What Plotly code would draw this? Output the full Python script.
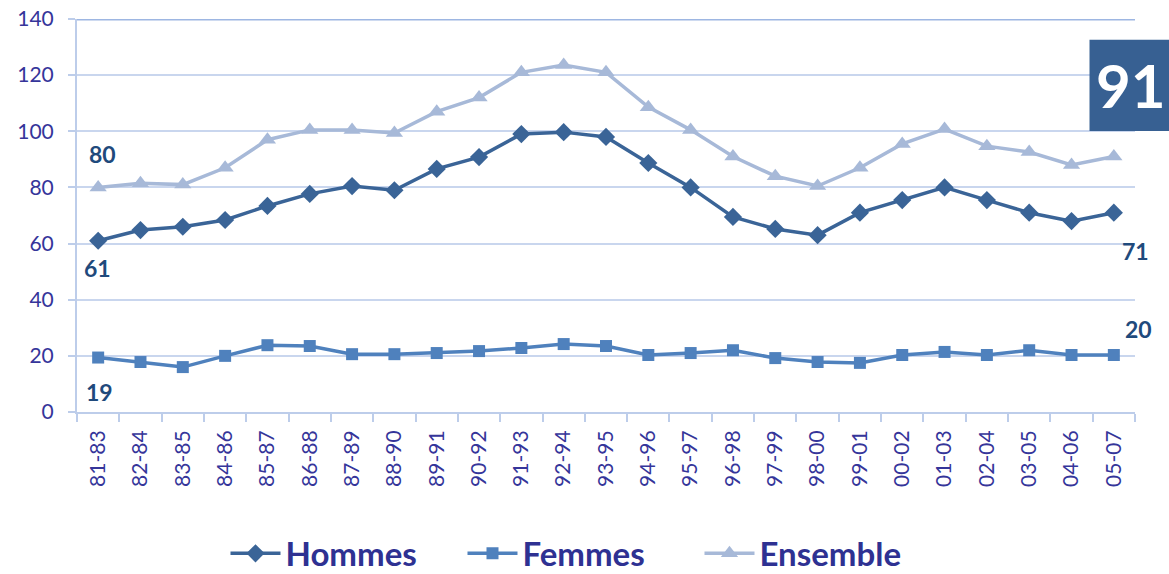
import plotly.graph_objects as go

categories = ["81-83", "82-84", "83-85", "84-86", "85-87", "86-88", "87-89", "88-90",
              "89-91", "90-92", "91-93", "92-94", "93-95", "94-96", "95-97", "96-98",
              "97-99", "98-00", "99-01", "00-02", "01-03", "02-04", "03-05", "04-06", "05-07"]

hommes = [61, 64.8, 66, 68.4, 73.4, 77.7, 80.5, 79, 86.6, 90.8, 99, 99.7, 98, 88.7, 80,
          69.5, 65.2, 63, 71, 75.5, 80, 75.5, 71, 68, 71]
femmes = [19.4, 17.8, 16, 20, 23.8, 23.5, 20.6, 20.6, 21, 21.7, 22.8, 24.2, 23.5, 20.3, 21,
          22, 19.2, 17.8, 17.5, 20.3, 21.4, 20.3, 22, 20.3, 20.3]
ensemble = [80, 81.5, 81, 87, 97, 100.5, 100.5, 99.4, 107, 112, 121, 123.6, 121, 108.6, 100.5,
            91, 84, 80.5, 87, 95.5, 100.8, 94.7, 92.6, 88, 91]

y_ticks = [0, 20, 40, 60, 80, 100, 120, 140]

C_H = "#3A6497"
C_F = "#4F81BD"
C_E = "#A7B9D8"
LABEL_C = "#1F4A7C"
TICK_C = "#35359A"
FONT = "Lato, 'Open Sans', sans-serif"

fig = go.Figure()
fig.add_trace(go.Scatter(x=categories, y=hommes, name="Hommes", mode="lines+markers",
                         line=dict(color=C_H, width=3.5),
                         marker=dict(symbol="diamond", size=14, color=C_H)))
fig.add_trace(go.Scatter(x=categories, y=femmes, name="Femmes", mode="lines+markers",
                         line=dict(color=C_F, width=3.5),
                         marker=dict(symbol="square", size=12, color=C_F)))
fig.add_trace(go.Scatter(x=categories, y=ensemble, name="Ensemble", mode="lines+markers",
                         line=dict(color=C_E, width=3.5),
                         marker=dict(symbol="triangle-up", size=15, color=C_E)))

lab_font = dict(family=FONT, size=23, color=LABEL_C, weight="bold")
anns = [
    (categories[0], ensemble[0], f"{ensemble[0]:.0f}", 4, 33),
    (categories[0], hommes[0], f"{hommes[0]:.0f}", -1, -27),
    (categories[0], femmes[0], f"{femmes[0]:.0f}", 1, -34),
    (categories[-1], hommes[-1], f"{hommes[-1]:.0f}", 22, -38),
    (categories[-1], femmes[-1], f"{femmes[-1]:.0f}", 25, 26),
]
for x, y, t, xs, ys in anns:
    fig.add_annotation(x=x, y=y, text=t, showarrow=False, xshift=xs, yshift=ys, font=lab_font)

# Highlight box with Ensemble last value
fig.add_shape(type="rect", xref="paper", yref="paper", x0=0.957, x1=1.035, y0=0.715, y1=0.947,
              fillcolor="#376092", line=dict(width=0), layer="above")
fig.add_annotation(xref="paper", yref="paper", x=0.996, y=0.831, xanchor="center", yanchor="middle",
                   text=f"{ensemble[-1]:.0f}", showarrow=False,
                   font=dict(family=FONT, size=60, color="white", weight="bold"))

# thicker top line at 140
fig.add_shape(type="line", xref="paper", yref="y", x0=0, x1=1, y0=140, y1=140,
              line=dict(color="#9DB6E2", width=3))

fig.update_layout(
    width=1169, height=574,
    margin=dict(l=77, r=34, t=19, b=162, autoexpand=False),
    plot_bgcolor="white", paper_bgcolor="white",
    font=dict(family=FONT, color=TICK_C),
    showlegend=True,
    legend=dict(orientation="h", xref="container", x=0.497, xanchor="center",
                yref="container", y=0.036, yanchor="middle",
                font=dict(family=FONT, size=33, color="#2E3192", weight="bold"),
                itemwidth=50, entrywidth=172, entrywidthmode="pixels",
                tracegroupgap=0),
    xaxis=dict(type="category", range=[-0.5, 24.5], tickangle=-90, automargin=False,
               tickfont=dict(size=21, color=TICK_C), showgrid=False, ticklabelstandoff=8,
               showline=True, linecolor="#BDCDEA", linewidth=2,
               ticks="outside", tickson="boundaries", ticklen=8, tickcolor="#BDCDEA", tickwidth=1.5),
    yaxis=dict(range=[0, 140], tickvals=y_ticks, tickfont=dict(size=21, color=TICK_C), automargin=False,
               showgrid=True, gridcolor="#C9D6EE", gridwidth=1.5, ticklabelstandoff=10,
               showline=True, linecolor="#BDCDEA", linewidth=2,
               ticks="outside", ticklen=7, tickcolor="#BDCDEA", tickwidth=1.5,
               zeroline=False),
)

fig.write_html("out.html", config={"displayModeBar": False},
               post_script="document.body.style.margin='0px';document.body.style.overflow='hidden';")
